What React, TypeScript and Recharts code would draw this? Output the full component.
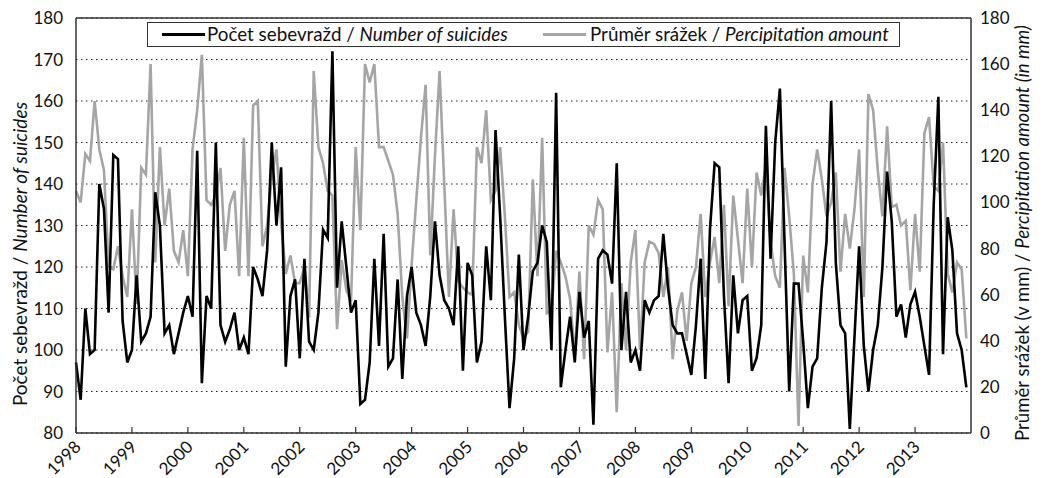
import React from 'react';
import {
    LineChart,
    Line,
    XAxis,
    YAxis,
    CartesianGrid,
    Legend,
    ReferenceLine,
} from 'recharts';

// monthly values, Jan 1998 .. Dec 2013
const suicides: number[] = [
    97, 88, 110, 99, 100, 140, 134, 109, 147, 146, 107, 97,
    100, 118, 102, 104, 108, 138, 130, 104, 106, 99, 104, 109,
    113, 108, 148, 92, 113, 110, 150, 106, 102, 105, 109, 100,
    103, 99, 120, 117, 113, 124, 150, 130, 144, 96, 113, 117,
    98, 122, 102, 100, 109, 129, 127, 172, 115, 131, 120, 109,
    112, 87, 88, 97, 122, 101, 128, 96, 98, 117, 93, 113,
    120, 109, 106, 101, 113, 131, 118, 112, 110, 106, 125, 95,
    121, 118, 97, 102, 125, 112, 153, 132, 108, 86, 98, 123,
    100, 108, 119, 121, 130, 126, 100, 162, 91, 100, 108, 97,
    114, 103, 107, 82, 122, 124, 123, 116, 145, 100, 114, 97,
    100, 95, 112, 109, 112, 113, 128, 115, 106, 104, 104, 99,
    94, 106, 122, 93, 129, 145, 144, 113, 92, 118, 104, 112,
    113, 95, 98, 106, 154, 122, 150, 163, 126, 90, 116, 116,
    102, 86, 96, 98, 115, 126, 160, 121, 106, 104, 81, 103,
    125, 101, 90, 100, 106, 120, 143, 131, 108, 111, 103, 111,
    114, 108, 101, 94, 135, 161, 99, 132, 124, 104, 100, 91,
];

const precipitation: number[] = [
    105, 100, 121, 118, 144, 123, 114, 72, 71, 81, 68, 59,
    97, 56, 115, 112, 160, 74, 124, 90, 106, 79, 74, 88,
    68, 123, 140, 164, 101, 99, 103, 115, 79, 99, 105, 68,
    128, 68, 142, 144, 81, 90, 111, 123, 91, 69, 77, 65,
    65, 72, 50, 157, 124, 117, 105, 103, 45, 75, 62, 57,
    124, 88, 160, 152, 160, 124, 124, 118, 112, 95, 59, 41,
    73, 101, 128, 151, 77, 120, 157, 108, 59, 97, 66, 63,
    61, 60, 124, 117, 140, 101, 105, 124, 94, 59, 61, 47,
    41, 44, 110, 68, 128, 52, 53, 79, 74, 68, 58, 33,
    70, 32, 90, 86, 101, 97, 35, 61, 9, 65, 36, 74,
    88, 36, 74, 83, 82, 78, 59, 72, 32, 53, 61, 40,
    65, 72, 95, 59, 74, 85, 65, 99, 55, 103, 84, 65,
    106, 72, 113, 103, 116, 83, 68, 63, 115, 94, 69, 3,
    77, 61, 108, 123, 110, 94, 100, 113, 70, 95, 80, 97,
    123, 59, 147, 140, 114, 94, 133, 98, 99, 90, 92, 62,
    95, 70, 130, 137, 107, 105, 126, 69, 61, 74, 71, 41,
];

const yearLabels = [
    '1998', '1999', '2000', '2001', '2002', '2003', '2004', '2005',
    '2006', '2007', '2008', '2009', '2010', '2011', '2012', '2013',
];

const leftTicks = [80, 90, 100, 110, 120, 130, 140, 150, 160, 170, 180];
const rightTicks = [0, 20, 40, 60, 80, 100, 120, 140, 160, 180];

const FONT = 'Lato, "Noto Sans", sans-serif';
const GRAY = '#a5a5a5';
const FRAME = '#333';

const data = suicides.map((s, i) => ({ m: i, suicides: s, precip: precipitation[i] }));
const yearTicks = yearLabels.map((_, i) => i * 12);

const YearTick = ({ x, y, payload }: any) => (
    <g>
        <line x1={x} y1={y} x2={x} y2={y - 6} stroke={FRAME} strokeWidth={1.2} />
        <text
            transform={`translate(${x + 6},${y + 15}) rotate(-45)`}
            textAnchor="end"
            fontSize={17}
            fontFamily={FONT}
            fill="#111"
        >
            {yearLabels[Math.round(payload.value / 12)]}
        </text>
    </g>
);

const LegendBox = () => (
    <div
        style={{
            position: 'relative',
            height: 25,
            border: `1px solid ${FRAME}`,
            background: '#fff',
            fontFamily: FONT,
            fontSize: 18.8,
            color: '#111',
            boxSizing: 'border-box',
        }}
    >
        <div style={{ position: 'absolute', left: 14, top: 10, width: 43, height: 3, background: '#000' }} />
        <div style={{ position: 'absolute', left: 59, top: 0, whiteSpace: 'nowrap', lineHeight: '22px' }}>
            Počet sebevražd / <i>Number of suicides</i>
        </div>
        <div style={{ position: 'absolute', left: 395, top: 10, width: 43, height: 3, background: GRAY }} />
        <div style={{ position: 'absolute', left: 442, top: 0, whiteSpace: 'nowrap', lineHeight: '22px' }}>
            Průměr srážek / <i>Percipitation amount</i>
        </div>
    </div>
);

const LeftTitle = () => (
    <text
        transform="translate(11,246) rotate(-90)"
        textAnchor="middle"
        dominantBaseline="central"
        fontSize={19}
        fontFamily={FONT}
        fill="#111"
    >
        Počet sebevražd /  <tspan fontStyle="italic">Number of suicides</tspan>
    </text>
);

const RightTitle = () => (
    <text
        transform="translate(1014,225) rotate(-90)"
        textAnchor="middle"
        dominantBaseline="central"
        fontSize={18.6}
        fontFamily={FONT}
        fill="#111"
    >
        Průměr srážek (v mm) / <tspan fontStyle="italic">Percipitation amount (in mm)</tspan>
    </text>
);

export default function App() {
    return (
        <div style={{ width: 1028, height: 470 }}>
            <LineChart width={1028} height={470} data={data} margin={{ top: 10, right: 0, left: 0, bottom: 0 }}>
                <CartesianGrid
                    yAxisId="left"
                    vertical={false}
                    stroke="#222"
                    strokeDasharray="1.5 3.5"
                />
                <XAxis
                    dataKey="m"
                    type="number"
                    domain={[0, 192]}
                    ticks={yearTicks}
                    interval={0}
                    height={45}
                    tickSize={0}
                    tickMargin={0}
                    tickLine={false}
                    tick={<YearTick />}
                    axisLine={{ stroke: FRAME, strokeWidth: 1.5 }}
                />
                <YAxis
                    yAxisId="left"
                    domain={[80, 180]}
                    ticks={leftTicks}
                    interval={0}
                    width={68}
                    tickSize={0}
                    tickMargin={13}
                    tickLine={false}
                    axisLine={{ stroke: FRAME, strokeWidth: 1.5 }}
                    tick={{ fontSize: 17, fontFamily: FONT, fill: '#111' }}
                    label={{ content: () => <LeftTitle /> }}
                />
                <YAxis
                    yAxisId="right"
                    orientation="right"
                    domain={[0, 180]}
                    ticks={rightTicks}
                    interval={0}
                    width={65}
                    tickSize={0}
                    tickMargin={9}
                    tickLine={false}
                    axisLine={{ stroke: FRAME, strokeWidth: 1.5 }}
                    tick={{ fontSize: 17, fontFamily: FONT, fill: '#111', textAnchor: 'start' }}
                    label={{ content: () => <RightTitle /> }}
                />
                <ReferenceLine yAxisId="left" y={180} stroke={FRAME} strokeWidth={1.5} />
                <Legend
                    verticalAlign="middle"
                    align="center"
                    layout="horizontal"
                    content={() => <LegendBox />}
                    wrapperStyle={{ left: 139, top: 14, width: 753, height: 25 }}
                />
                <Line
                    yAxisId="right"
                    type="linear"
                    dataKey="precip"
                    stroke={GRAY}
                    strokeWidth={2.6}
                    dot={false}
                    isAnimationActive={false}
                />
                <Line
                    yAxisId="left"
                    type="linear"
                    dataKey="suicides"
                    stroke="#000"
                    strokeWidth={2.6}
                    dot={false}
                    isAnimationActive={false}
                />
            </LineChart>
        </div>
    );
}
